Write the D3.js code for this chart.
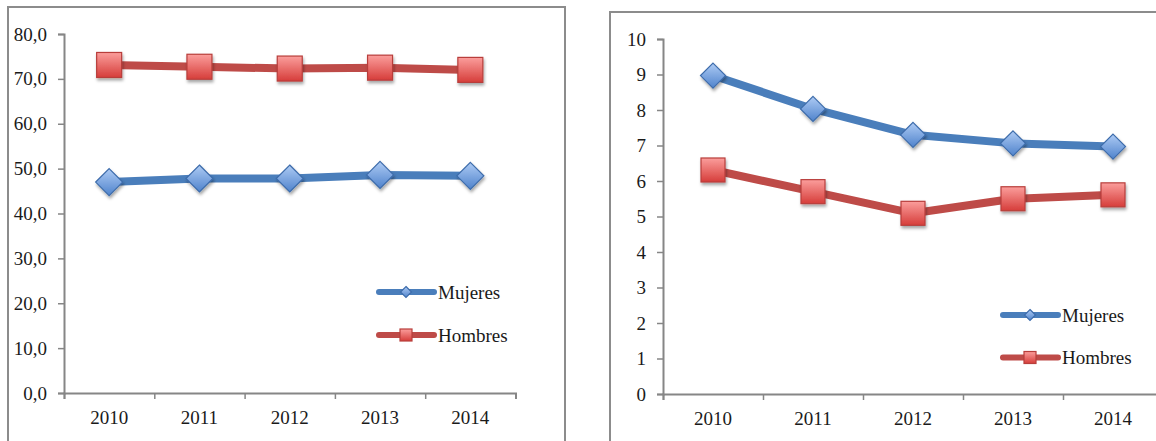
<!DOCTYPE html>
<html>
<head>
<meta charset="utf-8">
<script src="https://cdn.jsdelivr.net/npm/d3@7"></script>
<style>
  html, body { margin: 0; padding: 0; background: #fff; overflow: hidden; }
  svg { display: block; }
  text { font-family: "Liberation Serif", "Times New Roman", serif; fill: #1a1a1a; }
</style>
</head>
<body>
<svg id="chart" width="1156" height="441"></svg>
<script>
// Years shown on both charts
const years = ["2010", "2011", "2012", "2013", "2014"];

// Left chart: percentages by sex
const leftMujeres = [47.0, 47.8, 47.8, 48.6, 48.4];
const leftHombres = [73.1, 72.7, 72.3, 72.5, 72.0];
const leftTicks = [0, 10, 20, 30, 40, 50, 60, 70, 80];

// Right chart: values by sex
const rightMujeres = [8.97, 8.03, 7.30, 7.06, 6.97];
const rightHombres = [6.31, 5.70, 5.09, 5.50, 5.61];
const rightTicks = [0, 1, 2, 3, 4, 5, 6, 7, 8, 9, 10];

const seriesNames = ["Mujeres", "Hombres"];

const svg = d3.select("#chart");
const defs = svg.append("defs");

// Marker fills and soft shadow
const gBlue = defs.append("linearGradient").attr("id", "gBlue").attr("x1", 0).attr("y1", 0).attr("x2", 0).attr("y2", 1);
gBlue.append("stop").attr("offset", "0%").attr("stop-color", "#aecbf4");
gBlue.append("stop").attr("offset", "100%").attr("stop-color", "#4f83cc");
const gRed = defs.append("linearGradient").attr("id", "gRed").attr("x1", 0).attr("y1", 0).attr("x2", 0).attr("y2", 1);
gRed.append("stop").attr("offset", "0%").attr("stop-color", "#fb9e9c");
gRed.append("stop").attr("offset", "100%").attr("stop-color", "#d63d3a");
const shadow = defs.append("filter").attr("id", "shadow").attr("x", "-50%").attr("y", "-50%").attr("width", "200%").attr("height", "200%");
shadow.append("feDropShadow").attr("dx", 1).attr("dy", 2.5).attr("stdDeviation", 1.8)
  .attr("flood-color", "#000").attr("flood-opacity", 0.35);

const style = {
  Mujeres: { line: "#4a7ebb", fill: "url(#gBlue)", stroke: "#3d6cab", shape: "diamond" },
  Hombres: { line: "#be4b48", fill: "url(#gRed)", stroke: "#b83e3b", shape: "square" }
};

function drawMarker(g, shape, x, y, size, st, withShadow) {
  let m;
  if (shape === "square") {
    m = g.append("rect").attr("x", x - size / 2).attr("y", y - size / 2)
      .attr("width", size).attr("height", size);
  } else {
    const r = size / 2;
    m = g.append("path").attr("d", `M${x},${y - r}L${x + r},${y}L${x},${y + r}L${x - r},${y}Z`);
  }
  m.attr("fill", st.fill).attr("stroke", st.stroke).attr("stroke-width", 1.2);
  if (withShadow) m.attr("filter", "url(#shadow)");
}

function chart(cfg) {
  const g = svg.append("g");

  // panel frame
  g.append("rect").attr("x", cfg.frame[0]).attr("y", cfg.frame[1])
    .attr("width", cfg.frame[2]).attr("height", cfg.frame[3])
    .attr("fill", "none").attr("stroke", "#8c8c8c").attr("stroke-width", 2);

  const y = d3.scaleLinear().domain([0, d3.max(cfg.ticks)]).range([cfg.y0, cfg.y1]);
  const xb = d3.scaleBand().domain(years).range([cfg.x0, cfg.x1]).padding(0);
  const xe = d3.scaleLinear().domain([0, years.length]).range([cfg.x0, cfg.x1]);

  // y axis
  const ya = g.append("g").attr("transform", `translate(${cfg.x0},0)`)
    .call(d3.axisLeft(y).tickValues(cfg.ticks).tickSize(6).tickPadding(11).tickFormat(cfg.fmt));
  ya.select(".domain").attr("stroke", "#868686").attr("stroke-width", 2);
  ya.selectAll(".tick line").attr("stroke", "#868686").attr("stroke-width", 1.5);
  ya.selectAll("text").attr("font-size", 19).attr("fill", "#1a1a1a")
    .style("font-family", '"Liberation Serif", serif');

  // x axis: boundary ticks plus centred year labels
  const xa = g.append("g").attr("transform", `translate(0,${cfg.y0})`)
    .call(d3.axisBottom(xe).tickValues(d3.range(years.length + 1)).tickSize(6).tickFormat(""));
  xa.select(".domain").attr("stroke", "#868686").attr("stroke-width", 2);
  xa.selectAll(".tick line").attr("stroke", "#868686").attr("stroke-width", 1.5);
  const xl = g.append("g").attr("transform", `translate(0,${cfg.y0})`)
    .call(d3.axisBottom(xb).tickSize(0).tickPadding(18));
  xl.select(".domain").remove();
  xl.selectAll("text").attr("font-size", 19).attr("fill", "#1a1a1a")
    .style("font-family", '"Liberation Serif", serif');

  const cx = d => xb(d) + xb.bandwidth() / 2;
  const line = d3.line().x((d, i) => cx(years[i])).y(d => y(d));

  cfg.series.forEach(s => {
    const st = style[s.name];
    g.append("path").datum(s.values).attr("d", line)
      .attr("fill", "none").attr("stroke", st.line).attr("stroke-width", 8)
      .attr("stroke-linejoin", "round");
  });
  cfg.series.forEach(s => {
    const st = style[s.name];
    s.values.forEach((v, i) => drawMarker(g, st.shape, cx(years[i]), y(v), st.shape === "square" ? cfg.sq : cfg.dm, st, true));
  });

  // legend
  seriesNames.forEach((name, i) => {
    const st = style[name];
    const ly = cfg.legY[i];
    g.append("line").attr("x1", cfg.legX).attr("x2", cfg.legX + 55).attr("y1", ly).attr("y2", ly)
      .attr("stroke", st.line).attr("stroke-width", 6).attr("stroke-linecap", "round");
    drawMarker(g, st.shape, cfg.legX + 27, ly, st.shape === "square" ? 12 : 11, st, false);
    g.append("text").attr("x", cfg.legX + 59).attr("y", ly + 6.5)
      .attr("font-size", 19).text(name);
  });
}

chart({
  frame: [8, 7, 557, 460],
  x0: 64, x1: 515.5, y0: 393, y1: 34,
  ticks: leftTicks, fmt: d => d3.format(".1f")(d).replace(".", ","),
  series: [{ name: "Mujeres", values: leftMujeres }, { name: "Hombres", values: leftHombres }],
  sq: 25, dm: 27,
  legX: 379, legY: [292, 335]
});

chart({
  frame: [610, 12, 600, 460],
  x0: 663, x1: 1163, y0: 394, y1: 39,
  ticks: rightTicks, fmt: d => String(d),
  series: [{ name: "Mujeres", values: rightMujeres }, { name: "Hombres", values: rightHombres }],
  sq: 24, dm: 25,
  legX: 1003, legY: [315, 357.5]
});
</script>
</body>
</html>
